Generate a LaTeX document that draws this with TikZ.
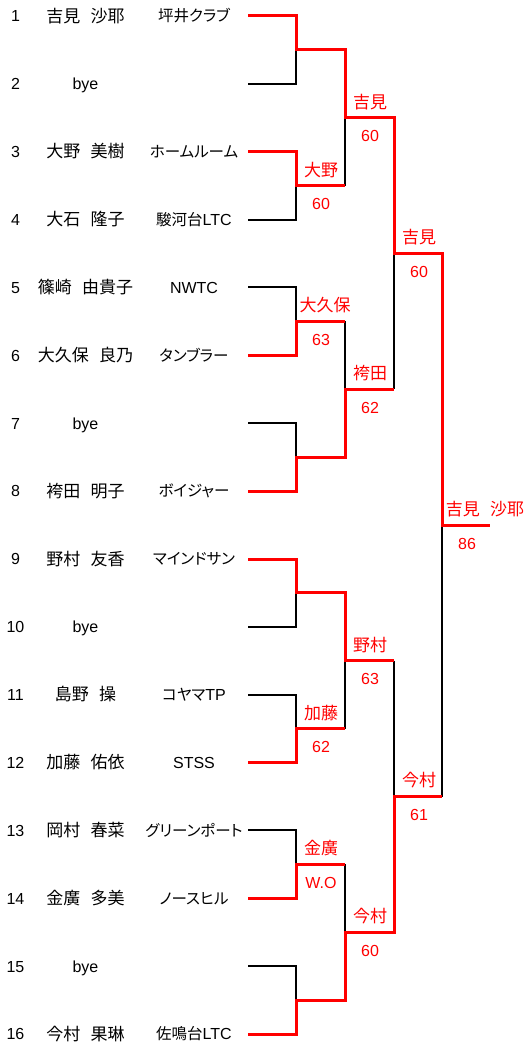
\documentclass[tikz,border=0pt]{standalone}
\usepackage{fontspec}
\setmainfont{Liberation Sans}
\newfontfamily\jpfont{Noto Sans CJK JP}
\newfontfamily\jpclubfont[RawFeature=+palt]{Noto Sans CJK JP}
\newfontfamily\latnfont{Liberation Sans}
\newcommand{\clubltn}[1]{{\fontsize{16}{16}\selectfont\latnfont #1}}
\newcommand{\nmgap}{\hspace{0.6em}}
\begin{document}
\begin{tikzpicture}
	[x=1pt,y=-1pt,
	every node/.style={inner sep=0pt,outer sep=0,font=\fontsize{16}{16}\selectfont},
	rowtext/.style={anchor=base,yshift=-5.8pt},
	player/.style={rowtext,yshift=-0.4pt,font=\fontsize{17}{17}\selectfont\jpfont},
	club/.style={rowtext,font=\fontsize{15.5}{15.5}\selectfont\jpclubfont},
	winname/.style={anchor=base,yshift=9.6pt,text=red,font=\fontsize{17}{17}\selectfont\jpfont},
	score/.style={anchor=base,yshift=-24pt,text=red},
	lost/.style={line width=2pt,color=black},
	won/.style={line width=3pt,color=red}]
	\useasboundingbox (0,0) rectangle (526,1048);
	\def\xn{15.5}\def\xp{85.5}\def\xt{194}
	\def\xs{248}\def\xa{296}\def\xb{345}\def\xc{394}\def\xd{442}\def\xe{490}
	\def\la{321}\def\lb{370}\def\lc{419}
	\node[rowtext] (n1)  at (\xn, 16)     {1} ;
	\node[rowtext] (n2)  at (\xn, 83.9)   {2} ;
	\node[rowtext] (n3)  at (\xn, 151.7)  {3} ;
	\node[rowtext] (n4)  at (\xn, 219.6)  {4} ;
	\node[rowtext] (n5)  at (\xn, 287.5)  {5} ;
	\node[rowtext] (n6)  at (\xn, 355.3)  {6} ;
	\node[rowtext] (n7)  at (\xn, 423.2)  {7} ;
	\node[rowtext] (n8)  at (\xn, 491.1)  {8} ;
	\node[rowtext] (n9)  at (\xn, 559.0)  {9} ;
	\node[rowtext] (n10) at (\xn, 626.8)  {10} ;
	\node[rowtext] (n11) at (\xn, 694.7)  {11} ;
	\node[rowtext] (n12) at (\xn, 762.6)  {12} ;
	\node[rowtext] (n13) at (\xn, 830.4)  {13} ;
	\node[rowtext] (n14) at (\xn, 898.3)  {14} ;
	\node[rowtext] (n15) at (\xn, 966.2)  {15} ;
	\node[rowtext] (n16) at (\xn, 1034.0) {16} ;
	\node[player]  (pl1)  at (\xp, 16)     {吉見\nmgap 沙耶} ;
	\node[rowtext] (pl2)  at (\xp, 83.9)   {bye} ;
	\node[player]  (pl3)  at (\xp, 151.7)  {大野\nmgap 美樹} ;
	\node[player]  (pl4)  at (\xp, 219.6)  {大石\nmgap 隆子} ;
	\node[player]  (pl5)  at (\xp, 287.5)  {篠崎\nmgap 由貴子} ;
	\node[player]  (pl6)  at (\xp, 355.3)  {大久保\nmgap 良乃} ;
	\node[rowtext] (pl7)  at (\xp, 423.2)  {bye} ;
	\node[player]  (pl8)  at (\xp, 491.1)  {袴田\nmgap 明子} ;
	\node[player]  (pl9)  at (\xp, 559.0)  {野村\nmgap 友香} ;
	\node[rowtext] (pl10) at (\xp, 626.8)  {bye} ;
	\node[player]  (pl11) at (\xp, 694.7)  {島野\nmgap 操} ;
	\node[player]  (pl12) at (\xp, 762.6)  {加藤\nmgap 佑依} ;
	\node[player]  (pl13) at (\xp, 830.4)  {岡村\nmgap 春菜} ;
	\node[player]  (pl14) at (\xp, 898.3)  {金廣\nmgap 多美} ;
	\node[rowtext] (pl15) at (\xp, 966.2)  {bye} ;
	\node[player]  (pl16) at (\xp, 1034.0) {今村\nmgap 果琳} ;
	\node[club]    (cl1)  at (\xt, 16)     {坪井クラブ} ;
	\node[club]    (cl3)  at (\xt, 151.7)  {ホームルーム} ;
	\node[club]    (cl4)  at (\xt, 219.6)  {駿河台\clubltn{LTC}} ;
	\node[rowtext] (cl5)  at (\xt, 287.5)  {NWTC} ;
	\node[club]    (cl6)  at (\xt, 355.3)  {タンブラー} ;
	\node[club]    (cl8)  at (\xt, 491.1)  {ボイジャー} ;
	\node[club]    (cl9)  at (\xt, 559.0)  {マインドサン} ;
	\node[club]    (cl11) at (\xt, 694.7)  {コヤマ\clubltn{TP}} ;
	\node[rowtext] (cl12) at (\xt, 762.6)  {STSS} ;
	\node[club]    (cl13) at (\xt, 830.4)  {グリーンポート} ;
	\node[club]    (cl14) at (\xt, 898.3)  {ノースヒル} ;
	\node[club]    (cl16) at (\xt, 1034.0) {佐鳴台\clubltn{LTC}} ;
	\coordinate (p1)  at (\xs, 16) ;
	\coordinate (p2)  at (\xs, 83.9) ;
	\coordinate (p3)  at (\xs, 151.7) ;
	\coordinate (p4)  at (\xs, 219.6) ;
	\coordinate (p5)  at (\xs, 287.5) ;
	\coordinate (p6)  at (\xs, 355.3) ;
	\coordinate (p7)  at (\xs, 423.2) ;
	\coordinate (p8)  at (\xs, 491.1) ;
	\coordinate (p9)  at (\xs, 559.0) ;
	\coordinate (p10) at (\xs, 626.8) ;
	\coordinate (p11) at (\xs, 694.7) ;
	\coordinate (p12) at (\xs, 762.6) ;
	\coordinate (p13) at (\xs, 830.4) ;
	\coordinate (p14) at (\xs, 898.3) ;
	\coordinate (p15) at (\xs, 966.2) ;
	\coordinate (p16) at (\xs, 1034.0) ;
	\coordinate (a1) at (\xa, 49.9) ;
	\coordinate (a2) at (\xa, 185.7) ;
	\coordinate (a3) at (\xa, 321.4) ;
	\coordinate (a4) at (\xa, 457.1) ;
	\coordinate (a5) at (\xa, 592.9) ;
	\coordinate (a6) at (\xa, 728.6) ;
	\coordinate (a7) at (\xa, 864.4) ;
	\coordinate (a8) at (\xa, 1000.1) ;
	\coordinate (b1) at (\xb, 117.8) ;
	\coordinate (b2) at (\xb, 389.3) ;
	\coordinate (b3) at (\xb, 660.7) ;
	\coordinate (b4) at (\xb, 932.3) ;
	\coordinate (c1) at (\xc, 253.5) ;
	\coordinate (c2) at (\xc, 796.5) ;
	\coordinate (f)  at (\xd, 525) ;
	\coordinate (fe) at (\xe, 525) ;
	\draw[lost]
	(p2) -- (p2 -| a1) -- (a1)
	(p4) -- (p4 -| a2) -- (a2)
	(p5) -- (p5 -| a3) -- (a3)
	(p7) -- (p7 -| a4) -- (a4)
	(p10) -- (p10 -| a5) -- (a5)
	(p11) -- (p11 -| a6) -- (a6)
	(p13) -- (p13 -| a7) -- (a7)
	(p15) -- (p15 -| a8) -- (a8)
	(a2 -| b1) -- (b1) (a3 -| b2) -- (b2)
	(a6 -| b3) -- (b3) (a7 -| b4) -- (b4)
	(b2 -| c1) -- (c1) (b3 -| c2) -- (c2)
	(c2 -| f) -- (f) ;
	\draw[won]
	(p1) -- (p1 -| a1) -- (a1) -- (a1 -| b1) -- (b1) -- (b1 -| c1) -- (c1) -- (c1 -| f) -- (f) -- (fe)
	(p3) -- (p3 -| a2) -- (a2) -- (a2 -| b1)
	(p6) -- (p6 -| a3) -- (a3) -- (a3 -| b2)
	(p8) -- (p8 -| a4) -- (a4) -- (a4 -| b2) -- (b2) -- (b2 -| c1)
	(p9) -- (p9 -| a5) -- (a5) -- (a5 -| b3) -- (b3) -- (b3 -| c2)
	(p12) -- (p12 -| a6) -- (a6) -- (a6 -| b3)
	(p14) -- (p14 -| a7) -- (a7) -- (a7 -| b4)
	(p16) -- (p16 -| a8) -- (a8) -- (a8 -| b4) -- (b4) -- (b4 -| c2) -- (c2) -- (c2 -| f) ;
	\node[winname] (wa2) at (\la, 185.7) {大野} ;
	\node[score]   (sa2) at (\la, 185.7) {60} ;
	\node[winname] (wa3) at (325, 321.4) {大久保} ;
	\node[score]   (sa3) at (\la, 321.4) {63} ;
	\node[winname] (wa6) at (\la, 728.6) {加藤} ;
	\node[score]   (sa6) at (\la, 728.6) {62} ;
	\node[winname] (wa7) at (\la, 864.4) {金廣} ;
	\node[score]   (sa7) at (\la, 864.4) {W.O} ;
	\node[winname] (wb1) at (\lb, 117.8) {吉見} ;
	\node[score]   (sb1) at (\lb, 117.8) {60} ;
	\node[winname] (wb2) at (\lb, 389.3) {袴田} ;
	\node[score]   (sb2) at (\lb, 389.3) {62} ;
	\node[winname] (wb3) at (\lb, 660.7) {野村} ;
	\node[score]   (sb3) at (\lb, 660.7) {63} ;
	\node[winname] (wb4) at (\lb, 932.3) {今村} ;
	\node[score]   (sb4) at (\lb, 932.3) {60} ;
	\node[winname] (wc1) at (\lc, 253.5) {吉見} ;
	\node[score]   (sc1) at (\lc, 253.5) {60} ;
	\node[winname] (wc2) at (\lc, 796.5) {今村} ;
	\node[score]   (sc2) at (\lc, 796.5) {61} ;
	\node[winname] (wf)  at (485, 525)   {吉見\nmgap 沙耶} ;
	\node[score]   (sf)  at (467, 525)   {86} ;
\end{tikzpicture}
\end{document}
